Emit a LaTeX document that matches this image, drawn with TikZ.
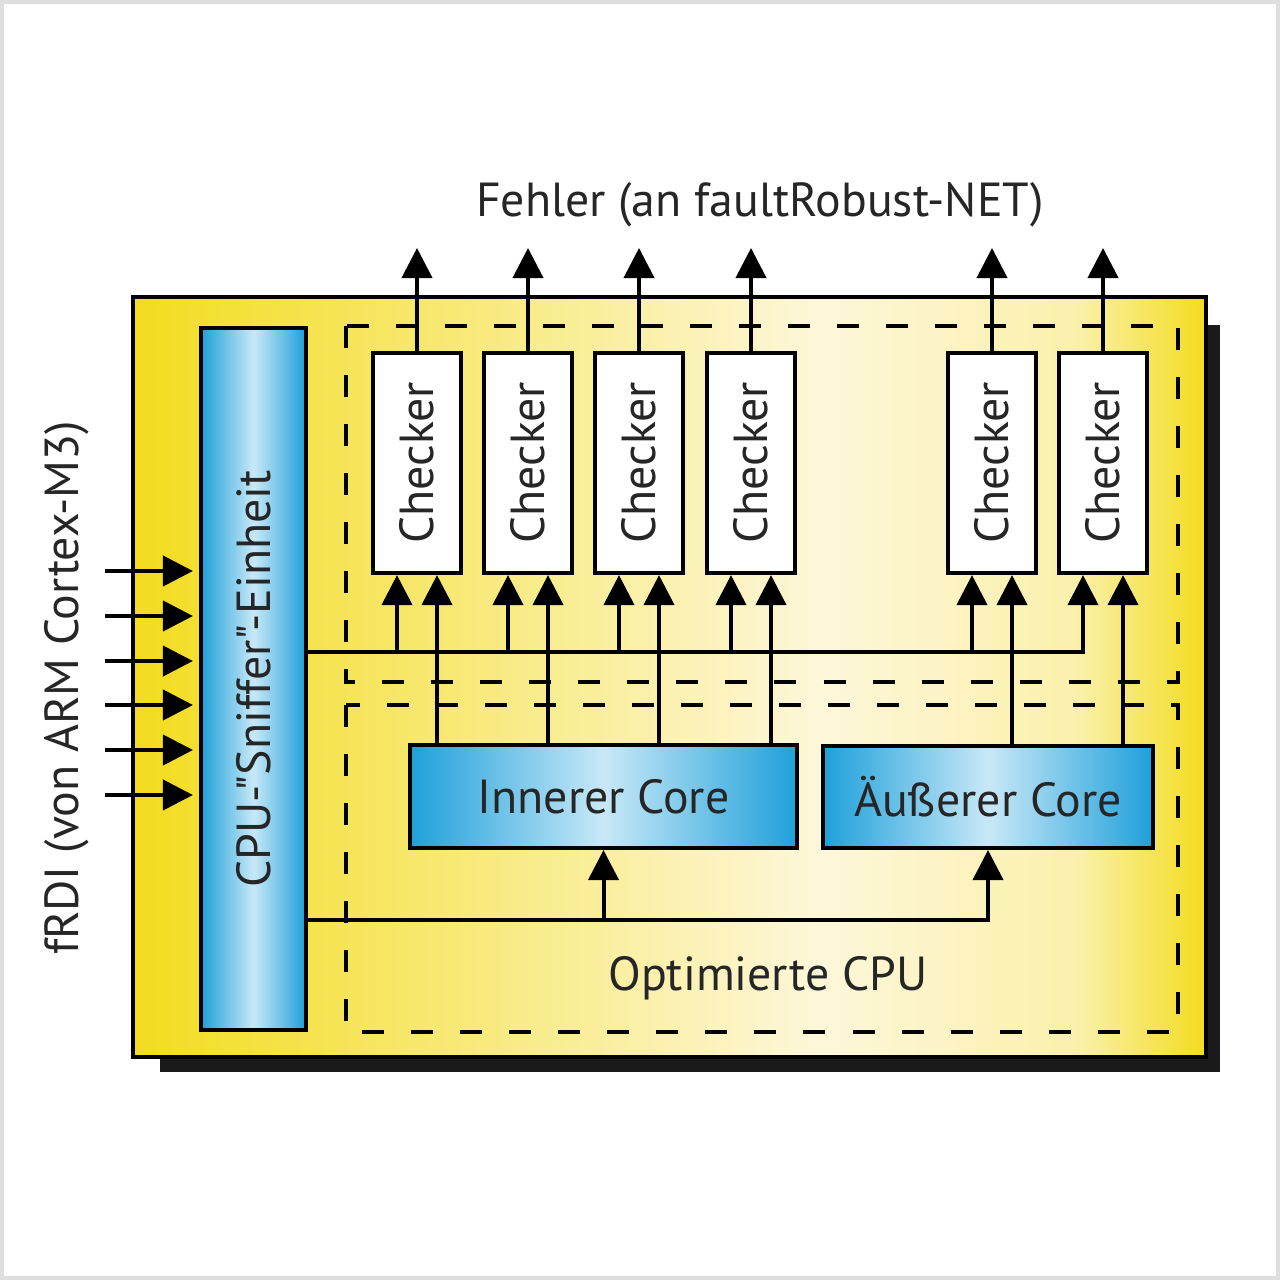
\documentclass[tikz,border=0pt]{standalone}
\usepackage{fontspec}
\usepackage{graphicx}
\setmainfont{PT Sans}[Ligatures=TeXOff]
\usetikzlibrary{arrows.meta,positioning}
\definecolor{gelb}{RGB}{243,220,30}
\definecolor{hellgelb}{RGB}{253,247,218}
\definecolor{blau}{RGB}{30,160,218}
\definecolor{hellblau}{RGB}{200,232,247}
\definecolor{schatten}{RGB}{26,26,26}
\pgfdeclarehorizontalshading{gelbband}{100bp}{color(0bp)=(gelb); color(25bp)=(gelb); color(57bp)=(hellgelb); color(69bp)=(hellgelb!75!gelb); color(75bp)=(gelb); color(100bp)=(gelb)}
\tikzset{
	linie/.style={line width=0.04cm},
	pfeil/.style={linie, -{Triangle[width=0.3cm,length=0.3cm]}},
	strich/.style={linie, dash pattern=on 0.22cm off 0.27cm},
	checker/.style={draw, linie, fill=white, minimum width=0.88cm, minimum height=2.2cm, inner sep=0pt},
	blaubox/.style={draw, linie, left color=blau, right color=blau, middle color=hellblau, inner sep=0pt},
	schrift/.style={font=\fontsize{13.6}{16}\selectfont, text=black!85}
}

\begin{document}
\begin{tikzpicture}[x=0.01cm, y=-0.01cm, schrift]
			%%%%% RAHMEN %%%%%
			\useasboundingbox (0,0) rectangle (1280,1280);
			\draw[black!13, line width=0.04cm] (2,2) rectangle (1278,1278);
			
			\fill[schatten] (160,325) rectangle (1220,1072);
			\path[draw, linie, shading=gelbband] (133,297) rectangle (1206,1057);
			
			\draw[strich] (346,326) rectangle (1178,682);
			\draw[strich] (346,705) rectangle (1178,1032);
			
			%%%%% BLOECKE %%%%%
			\node[blaubox, minimum width=1.05cm, minimum height=7.02cm] (sniffer) at (253.5,679) {\rotatebox{90}{CPU-"Sniffer"-Einheit}};
			
			\node[checker] (ch1) at (417,463) {\rotatebox{90}{Checker}};
			\node[checker] (ch2) at (528,463) {\rotatebox{90}{Checker}};
			\node[checker] (ch3) at (639,463) {\rotatebox{90}{Checker}};
			\node[checker] (ch4) at (751,463) {\rotatebox{90}{Checker}};
			\node[checker] (ch5) at (992,463) {\rotatebox{90}{Checker}};
			\node[checker] (ch6) at (1103,463) {\rotatebox{90}{Checker}};
			
			\node[blaubox, minimum width=3.87cm, minimum height=1.03cm] (inner) at (603.5,796.5) {Innerer Core};
			\node[blaubox, minimum width=3.30cm, minimum height=1.02cm] (outer) at (988,797) {Äußerer Core};
			
			\node (fehler) at (760,205) {Fehler (an faultRobust-NET)};
			\node[rotate=90] (frdi) at (67,688) {fRDI (von ARM Cortex-M3)};
			\node (optcpu) at (768,978) {Optimierte CPU};
			
			%%%%% HILFSPUNKTE %%%%%
			\coordinate (oben) at (0,248);
			\coordinate (bus1) at (0,652);
			\coordinate (bus2) at (0,920);
			
			\coordinate (a1) at ([xshift=-0.2cm]ch1.south);
			\coordinate (b1) at ([xshift=0.2cm]ch1.south);
			\coordinate (a2) at ([xshift=-0.2cm]ch2.south);
			\coordinate (b2) at ([xshift=0.2cm]ch2.south);
			\coordinate (a3) at ([xshift=-0.2cm]ch3.south);
			\coordinate (b3) at ([xshift=0.2cm]ch3.south);
			\coordinate (a4) at ([xshift=-0.2cm]ch4.south);
			\coordinate (b4) at ([xshift=0.2cm]ch4.south);
			\coordinate (a5) at ([xshift=-0.2cm]ch5.south);
			\coordinate (b5) at ([xshift=0.2cm]ch5.south);
			\coordinate (a6) at ([xshift=-0.2cm]ch6.south);
			\coordinate (b6) at ([xshift=0.2cm]ch6.south);
			
			%%%%% FEHLERAUSGAENGE %%%%%
			\draw[pfeil] (ch1.north) -- (ch1.north |- oben);
			\draw[pfeil] (ch2.north) -- (ch2.north |- oben);
			\draw[pfeil] (ch3.north) -- (ch3.north |- oben);
			\draw[pfeil] (ch4.north) -- (ch4.north |- oben);
			\draw[pfeil] (ch5.north) -- (ch5.north |- oben);
			\draw[pfeil] (ch6.north) -- (ch6.north |- oben);
			
			%%%%% SNIFFER-BUS %%%%%
			\draw[pfeil] (sniffer.east |- bus1) -- (a6 |- bus1) -- (a6);
			\draw[pfeil] (a1 |- bus1) -- (a1);
			\draw[pfeil] (a2 |- bus1) -- (a2);
			\draw[pfeil] (a3 |- bus1) -- (a3);
			\draw[pfeil] (a4 |- bus1) -- (a4);
			\draw[pfeil] (a5 |- bus1) -- (a5);
			
			%%%%% CORES ZU CHECKERN %%%%%
			\draw[pfeil] (b1 |- inner.north) -- (b1);
			\draw[pfeil] (b2 |- inner.north) -- (b2);
			\draw[pfeil] (b3 |- inner.north) -- (b3);
			\draw[pfeil] (b4 |- inner.north) -- (b4);
			\draw[pfeil] (b5 |- outer.north) -- (b5);
			\draw[pfeil] (b6 |- outer.north) -- (b6);
			
			\draw[pfeil] (sniffer.east |- bus2) -- (outer.south |- bus2) -- (outer.south);
			\draw[pfeil] (inner.south |- bus2) -- (inner.south);
			
			%%%%% EINGAENGE %%%%%
			\coordinate (in1) at (105,571);
			\coordinate (in2) at (105,616);
			\coordinate (in3) at (105,661);
			\coordinate (in4) at (105,705);
			\coordinate (in5) at (105,750);
			\coordinate (in6) at (105,795);
			\draw[pfeil, shorten >=0.06cm] (in1) -- (in1 -| sniffer.west);
			\draw[pfeil, shorten >=0.06cm] (in2) -- (in2 -| sniffer.west);
			\draw[pfeil, shorten >=0.06cm] (in3) -- (in3 -| sniffer.west);
			\draw[pfeil, shorten >=0.06cm] (in4) -- (in4 -| sniffer.west);
			\draw[pfeil, shorten >=0.06cm] (in5) -- (in5 -| sniffer.west);
			\draw[pfeil, shorten >=0.06cm] (in6) -- (in6 -| sniffer.west);
			
			%%%%% ENDE %%%%%
\end{tikzpicture}
\end{document}
